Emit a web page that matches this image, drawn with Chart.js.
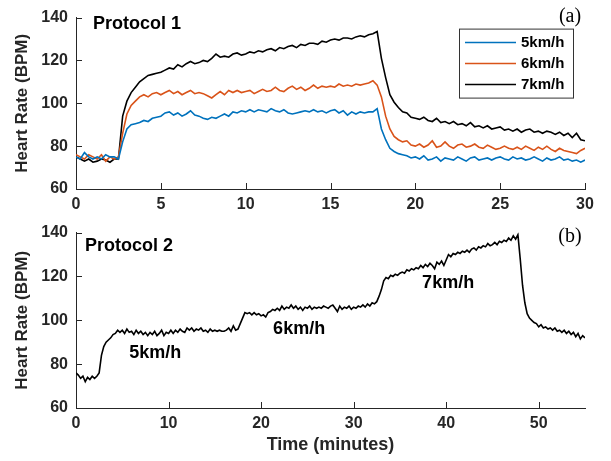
<!DOCTYPE html>
<html>
<head>
<meta charset="utf-8">
<script src="https://cdn.jsdelivr.net/npm/chart.js@4.4.0/dist/chart.umd.min.js"></script>
<style>
  html, body { margin: 0; padding: 0; background: #fff; }
  #wrap { position: relative; width: 611px; height: 461px; }
  canvas { position: absolute; left: 0; }
  #chartA { top: 0; }
  #chartB { top: 215px; }
</style>
</head>
<body>
<div id="wrap">
  <canvas id="chartA" width="611" height="215"></canvas>
  <canvas id="chartB" width="611" height="246"></canvas>
</div>
<script>
// --- data (heart rate in BPM, one sample every stepA / stepB minutes) ---
const stepA = 0.25;
const stepB = 0.25;

const speedLabels = ['5km/h', '6km/h', '7km/h'];

// protocol 1 : three separate runs, 0..30 min
const hr5 = [
  75, 74, 77, 75, 74, 75, 74, 76,
  75, 75, 74, 82, 88, 90, 90.5, 91,
  92, 91.5, 93, 93.5, 94, 95.5, 96, 94.5,
  95.5, 94, 95, 96.5, 94.5, 94, 93, 92.5,
  93.5, 93, 94, 95, 94, 96, 95.5, 96.5,
  96, 97, 96, 97, 96.5, 96, 97.5, 96.5,
  96, 97, 95.5, 95, 95.5, 96, 96.5, 96,
  97, 96, 96.5, 95.5, 96.5, 97, 95.5, 96.5,
  94.5, 96, 95, 96, 95.5, 96, 96, 97.5,
  88, 83, 79, 77.5, 76.5, 76, 75.5, 74.5,
  75, 74, 75.5, 73.5, 74, 75, 73, 74.5,
  74, 73.5, 75, 74, 73, 74.5, 75, 73.5,
  74, 74.5, 73.5, 74.5, 75, 74, 73.5, 75,
  74, 74.5, 73.5, 74, 75, 74, 73, 74.5,
  73.5, 74, 75, 73.5, 74, 73, 73.5, 72.5,
  73.5
];
const hr6 = [
  76, 75, 74, 76, 75, 74, 76, 73,
  75, 74, 75, 86, 95, 99, 101, 103,
  104, 103, 104.5, 105, 104, 105, 106, 104.5,
  105.5, 104, 105, 106, 104.5, 105, 104.5, 103.5,
  102.5, 104, 105.5, 104, 106, 105, 106, 105,
  105.5, 106, 104.5, 105.5, 106.5, 105.5, 106, 107.5,
  106, 105.5, 107, 108, 106.5, 107.5, 106, 107,
  108.5, 107, 108, 107.5, 108, 107.5, 109, 108,
  108.5, 108, 109, 108.5, 109, 109.5, 110.5, 108.5,
  103, 94, 88, 84.5, 83, 82, 82.5, 80.5,
  80, 81, 79.5, 80.5, 82.5, 79.5, 80, 82,
  80, 79, 80.5, 81, 79.5, 80, 81, 79.5,
  79, 80.5, 79.5, 78.5, 79, 80, 79, 78.5,
  79.5, 78.5, 80, 79, 78, 79.5, 78.5, 80,
  78.5, 77.5, 79, 78, 77.5, 77, 76.5, 78,
  79
];
const hr7 = [
  75, 74, 73, 74, 72.5, 73, 74, 73.5,
  72.5, 74, 74, 94, 101, 105, 107.5, 110,
  111.5, 113, 113.5, 114, 114.5, 115.5, 116.5, 116,
  118, 117, 118.5, 119.5, 118.5, 119, 120, 119.5,
  121, 123, 121.5, 122, 121.5, 123, 123.5, 122.5,
  123, 124, 123.5, 124.5, 124, 125, 125.5, 124.5,
  126, 125.5, 126.5, 127, 126, 127.5, 127, 128,
  128, 127.5, 129, 128.5, 129.5, 130, 129.5, 130.5,
  130.5, 130, 131, 131.5, 131, 132, 132.5, 133.5,
  121, 112, 104, 100.5, 98, 96, 95.5, 93.5,
  93, 92.5, 93.5, 92, 91.5, 93, 91, 91.5,
  90.5, 91.5, 90, 90.5, 89.5, 91, 89, 89.5,
  88.5, 89.5, 88, 88.5, 89, 87.5, 88, 87,
  88, 86.5, 87.5, 88, 86.5, 87, 86, 87,
  86.5, 85.5, 86.5, 85, 86, 84, 86, 83,
  82.5
];

// protocol 2 : one incremental run, 0..55 min
const hrP2 = [
  76, 75, 73.5, 74.5, 72, 74, 73, 74.5,
  73.5, 74.5, 76, 84, 88, 90, 91, 92,
  93.5, 94, 95.5, 94.5, 95.5, 94, 96, 94.5,
  95, 93.5, 95.5, 94, 95, 93.5, 94.5, 93,
  94.5, 93.5, 95, 93, 94, 95.5, 93, 94.5,
  94, 95.5, 94, 95.5, 94.5, 96, 95, 94.5,
  96.5, 95.5, 96.5, 95, 96, 95.5, 96.5, 95,
  95.5, 94.5, 96, 95, 95.5, 95, 95.5, 95,
  95, 95.5, 96.5, 95, 97.5, 95.5, 96, 98.5,
  101, 103.5, 103, 103.5, 102.5, 103.5, 102.5, 103,
  102, 102.5, 101.5, 103.5, 104, 105, 104.5, 105.5,
  104.5, 106.5, 105, 106, 105.5, 107, 105.5, 106.5,
  105, 106, 104.5, 106, 105.5, 106.5, 105, 106,
  105.5, 106, 105.5, 106.5, 106, 105.5, 106.5, 107,
  105.5, 104, 106.5, 105, 106, 105.5, 106.5, 105,
  106, 105.5, 106.5, 106, 107, 106, 107.5, 106.5,
  108, 107.5, 108.5, 111, 114, 118, 119.5, 119,
  120.5, 120, 121, 120.5, 121.5, 122, 121.5, 123,
  122.5, 123.5, 123, 124, 123.5, 125, 124, 125.5,
  124.5, 126, 125, 123.5, 126.5, 125.5, 127, 125,
  127.5, 130, 129, 130.5, 130, 131, 130.5, 131.5,
  131, 132, 131, 132.5, 133, 132, 133.5, 133,
  134, 133.5, 135, 134, 134.5, 135.5, 134.5, 136,
  135.5, 136.5, 136, 137.5, 136.5, 138.5, 137, 139,
  128, 116, 108, 103, 101, 100, 99, 98.5,
  97, 98, 96.5, 97, 96, 96.5, 95.5, 96.5,
  95, 95.5, 94.5, 95.5, 94, 95, 93.5, 94.5,
  92.5, 94, 91.5, 93, 92
];

const ticksXA = [0, 5, 10, 15, 20, 25, 30];
const ticksXB = [0, 10, 20, 30, 40, 50];
const ticksY = [60, 80, 100, 120, 140];

// --- styles ---
const axisColor = '#262626';
const lineColors = ['#0072BD', '#D95319', '#000000'];
const sans = '"Liberation Sans", Arial, Helvetica, sans-serif';
const serif = '"Liberation Serif", "Times New Roman", serif';

const toPoints = (arr, step) => arr.map((v, i) => ({ x: i * step, y: v }));

// MATLAB style ticks pointing into the plot
const inwardTicks = {
  id: 'inwardTicks',
  afterDraw(chart) {
    const { ctx, chartArea: a, scales } = chart;
    ctx.save();
    ctx.strokeStyle = axisColor;
    ctx.lineWidth = 1;
    ctx.beginPath();
    scales.x.ticks.forEach(t => {
      const px = Math.round(scales.x.getPixelForValue(t.value)) + 0.5;
      ctx.moveTo(px, a.bottom);
      ctx.lineTo(px, a.bottom - 6);
    });
    scales.y.ticks.forEach(t => {
      const py = Math.round(scales.y.getPixelForValue(t.value)) + 0.5;
      ctx.moveTo(a.left, py);
      ctx.lineTo(a.left + 6, py);
    });
    ctx.stroke();
    ctx.restore();
  }
};

function textAt(ctx, str, x, y, font, align) {
  ctx.font = font;
  ctx.fillStyle = '#000';
  ctx.textAlign = align || 'left';
  ctx.textBaseline = 'middle';
  ctx.fillText(str, x, y);
}

function axes(xMin, xMax, xTicks, xTitle) {
  return {
    x: {
      type: 'linear', min: xMin, max: xMax,
      afterBuildTicks: s => { s.ticks = xTicks.map(v => ({ value: v })); },
      afterFit: s => { s.height = xTitle ? 53 : 26; },
      grid: { display: false, drawTicks: false },
      border: { display: true, color: axisColor, width: 1 },
      ticks: { color: axisColor, padding: 6, maxRotation: 0, font: { family: sans, size: 16, weight: 'bold' } },
      title: {
        display: !!xTitle, text: xTitle || '', color: axisColor,
        padding: { top: 0, bottom: 5 },
        font: { family: sans, size: 18, weight: 'bold' }
      }
    },
    y: {
      type: 'linear', min: 60, max: 140,
      afterBuildTicks: s => { s.ticks = ticksY.map(v => ({ value: v })); },
      afterFit: s => { s.width = 76; },
      grid: { display: false, drawTicks: false },
      border: { display: true, color: axisColor, width: 1 },
      ticks: { color: axisColor, padding: 8, font: { family: sans, size: 16, weight: 'bold' } },
      title: {
        display: true, text: 'Heart Rate (BPM)', color: axisColor,
        padding: { top: 12, bottom: 0 },
        font: { family: sans, size: 17, weight: 'bold' }
      }
    }
  };
}

const baseOpts = {
  responsive: false,
  animation: false,
  events: [],
  plugins: { legend: { display: false }, tooltip: { enabled: false } }
};

// --- (a) protocol 1 ---
const notesA = {
  id: 'notesA',
  afterDatasetsDraw(chart) {
    const { ctx, chartArea: a, scales: { x, y } } = chart;
    ctx.save();
    textAt(ctx, 'Protocol 1', x.getPixelForValue(1.0), y.getPixelForValue(137.2), 'bold 18px ' + sans);
    textAt(ctx, '(a)', a.right - 15, a.top - 1, '20px ' + serif, 'center');

    // legend box
    const x0 = a.right - 126, y0 = a.top + 11, w = 114, h = 69;
    ctx.fillStyle = '#fff';
    ctx.fillRect(x0, y0, w, h);
    ctx.strokeStyle = '#333';
    ctx.lineWidth = 1;
    ctx.strokeRect(x0 + 0.5, y0 + 0.5, w, h);
    chart.data.datasets.forEach((ds, i) => {
      const ly = y0 + 14 + i * 21;
      ctx.strokeStyle = ds.borderColor;
      ctx.lineWidth = 1.5;
      ctx.beginPath();
      ctx.moveTo(x0 + 6, ly);
      ctx.lineTo(x0 + 57, ly);
      ctx.stroke();
      textAt(ctx, ds.label, x0 + 62, ly, 'bold 15px ' + sans);
    });
    ctx.restore();
  }
};

new Chart(document.getElementById('chartA'), {
  type: 'line',
  data: {
    datasets: [hr5, hr6, hr7].map((arr, i) => ({
      label: speedLabels[i],
      data: toPoints(arr, stepA),
      borderColor: lineColors[i],
      borderWidth: 1.6,
      pointRadius: 0,
      tension: 0,
      fill: false
    }))
  },
  options: Object.assign({}, baseOpts, {
    layout: { padding: { top: 16, right: 26, bottom: 0, left: 0 } },
    scales: axes(0, 30, ticksXA, null)
  }),
  plugins: [inwardTicks, notesA]
});

// --- (b) protocol 2 ---
const notesB = {
  id: 'notesB',
  afterDatasetsDraw(chart) {
    const { ctx, chartArea: a, scales: { x, y } } = chart;
    ctx.save();
    textAt(ctx, 'Protocol 2', x.getPixelForValue(0.97), y.getPixelForValue(133.9), 'bold 18px ' + sans);
    textAt(ctx, '5km/h', x.getPixelForValue(5.76), y.getPixelForValue(85.0), 'bold 18px ' + sans);
    textAt(ctx, '6km/h', x.getPixelForValue(21.3), y.getPixelForValue(96.1), 'bold 18px ' + sans);
    textAt(ctx, '7km/h', x.getPixelForValue(37.4), y.getPixelForValue(116.9), 'bold 18px ' + sans);
    textAt(ctx, '(b)', a.right - 15, a.top + 4, '20px ' + serif, 'center');
    ctx.restore();
  }
};

new Chart(document.getElementById('chartB'), {
  type: 'line',
  data: {
    datasets: [{
      label: 'Protocol 2',
      data: toPoints(hrP2, stepB),
      borderColor: '#000000',
      borderWidth: 1.6,
      pointRadius: 0,
      tension: 0,
      fill: false
    }]
  },
  options: Object.assign({}, baseOpts, {
    layout: { padding: { top: 13, right: 26, bottom: 0, left: 0 } },
    scales: axes(0, 55, ticksXB, 'Time (minutes)')
  }),
  plugins: [inwardTicks, notesB]
});
</script>
</body>
</html>
